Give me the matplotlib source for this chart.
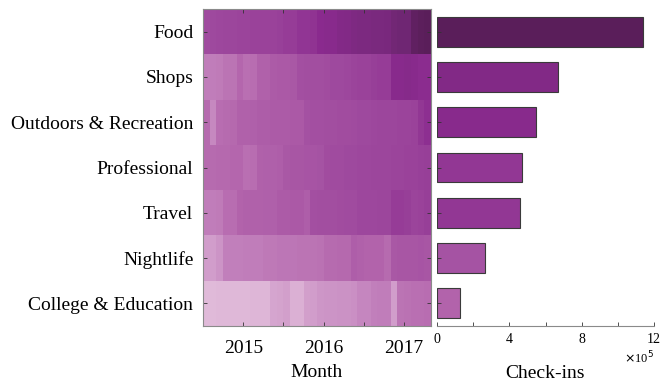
import numpy as np
import matplotlib
matplotlib.use("Agg")
import matplotlib.pyplot as plt
from matplotlib.colors import LinearSegmentedColormap

plt.rcParams['font.family'] = ['Liberation Serif', 'DejaVu Serif']

categories = ["Food", "Shops", "Outdoors & Recreation", "Professional",
              "Travel", "Nightlife", "College & Education"]

# monthly activity intensity per category (Jul 2014 - Apr 2017)
start_year, start_month, n_months = 2014, 7, 34

food = [0.57, 0.58, 0.59, 0.60, 0.60, 0.61, 0.61, 0.62, 0.62, 0.62, 0.62, 0.63,
        0.65, 0.65, 0.69, 0.69, 0.70, 0.75, 0.76, 0.76, 0.79, 0.80, 0.82, 0.83,
        0.83, 0.84, 0.84, 0.85, 0.89, 0.90, 0.90, 0.97, 0.99, 1.00]
shops = [0.30, 0.30, 0.31, 0.34, 0.34, 0.40, 0.36, 0.37, 0.43, 0.43, 0.47, 0.48,
         0.48, 0.49, 0.54, 0.55, 0.55, 0.55, 0.56, 0.58, 0.58, 0.59, 0.61, 0.62,
         0.62, 0.64, 0.65, 0.65, 0.76, 0.76, 0.77, 0.76, 0.74, 0.74]
outdoors = [0.38, 0.25, 0.37, 0.38, 0.39, 0.43, 0.43, 0.44, 0.46, 0.46, 0.47, 0.47,
            0.47, 0.48, 0.48, 0.53, 0.54, 0.54, 0.55, 0.55, 0.56, 0.56, 0.57, 0.58,
            0.58, 0.59, 0.60, 0.60, 0.60, 0.61, 0.61, 0.62, 0.68, 0.72]
professional = [0.38, 0.38, 0.39, 0.39, 0.40, 0.40, 0.36, 0.37, 0.43, 0.44, 0.44, 0.45,
                0.49, 0.50, 0.50, 0.51, 0.51, 0.52, 0.56, 0.57, 0.57, 0.58, 0.58, 0.59,
                0.59, 0.60, 0.60, 0.60, 0.61, 0.61, 0.62, 0.62, 0.63, 0.64]
travel = [0.30, 0.30, 0.31, 0.37, 0.37, 0.42, 0.43, 0.43, 0.43, 0.44, 0.44, 0.47,
          0.47, 0.48, 0.48, 0.45, 0.54, 0.55, 0.55, 0.55, 0.56, 0.57, 0.57, 0.59,
          0.59, 0.59, 0.60, 0.60, 0.65, 0.65, 0.64, 0.61, 0.62, 0.64]
nightlife = [0.16, 0.16, 0.20, 0.29, 0.29, 0.29, 0.30, 0.30, 0.30, 0.32, 0.32, 0.33,
             0.33, 0.33, 0.34, 0.34, 0.34, 0.35, 0.38, 0.38, 0.39, 0.39, 0.45, 0.43,
             0.42, 0.42, 0.42, 0.38, 0.49, 0.50, 0.50, 0.50, 0.51, 0.50]
college = [0.02, 0.02, 0.03, 0.03, 0.03, 0.03, 0.03, 0.04, 0.04, 0.04, 0.12, 0.13,
           0.15, 0.07, 0.07, 0.15, 0.16, 0.19, 0.20, 0.20, 0.21, 0.21, 0.22, 0.26,
           0.26, 0.29, 0.30, 0.30, 0.16, 0.34, 0.35, 0.36, 0.36, 0.37]

# total check-ins per category, in units of 1e5
checkins = [11.4, 6.7, 5.45, 4.7, 4.6, 2.65, 1.27]
bar_levels = [1.0, 0.80, 0.76, 0.68, 0.68, 0.52, 0.42]

year_ticks = [2015, 2016, 2017]
count_ticks = ["0", "2", "4", "6", "8", "10", "12"]

cmap = LinearSegmentedColormap.from_list(
    "orchid",
    [(0.0, "#e2bedb"), (0.2, "#cc94c6"), (0.4, "#b466ad"), (0.6, "#9c469c"),
     (0.75, "#8a2a8e"), (0.88, "#742878"), (1.0, "#5a1e5a")])

W, H = 668, 384
fig = plt.figure(figsize=(W / 100, H / 100), dpi=100)

hm_left, hm_right, top, bottom = 203, 431, 9, 326
bar_left, bar_right = 437, 654
ax = fig.add_axes([hm_left / W, 1 - bottom / H, (hm_right - hm_left) / W, (bottom - top) / H])
axb = fig.add_axes([bar_left / W, 1 - bottom / H, (bar_right - bar_left) / W, (bottom - top) / H])

matrix = np.array([food, shops, outdoors, professional, travel, nightlife, college])
month_index = np.arange(n_months + 1) + (start_month - 1)
x_edges = start_year + month_index / 12.0
y_edges = np.arange(len(categories) + 1) - 0.5
ax.pcolormesh(x_edges, y_edges, matrix, cmap=cmap, vmin=0, vmax=1, shading="flat")
ax.set_xlim(x_edges[0], x_edges[-1])
ax.set_ylim(len(categories) - 0.5, -0.5)

ax.set_xticks(year_ticks)
ax.set_xticklabels([str(y) for y in year_ticks], fontsize=14)
ax.set_xticks([y + 0.5 for y in [2014] + year_ticks[:-1]], minor=True)
ax.set_yticks(range(len(categories)))
ax.set_yticklabels(categories, fontsize=14)
ax.tick_params(axis="both", which="both", direction="in", length=3, width=0.6,
               color="#333333", top=True, right=True)
ax.tick_params(axis="x", pad=10)
ax.tick_params(axis="y", pad=7)
for s in ax.spines.values():
    s.set_color("#8a8a8a")
    s.set_linewidth(0.8)
ax.set_xlabel("Month", fontsize=14, labelpad=5)

ypos = np.arange(len(categories))
axb.barh(ypos, checkins, height=0.66, color=[cmap(v) for v in bar_levels],
         edgecolor="#3a3a3a", linewidth=0.8)
axb.set_xlim(0, 12)
axb.set_ylim(len(categories) - 0.5, -0.5)
axb.set_xticks([float(t) for t in count_ticks])
axb.set_xticklabels([lbl if i % 2 == 0 else "" for i, lbl in enumerate(count_ticks)],
                    fontsize=10)
axb.set_yticks(ypos)
axb.set_yticklabels([])
axb.tick_params(axis="both", direction="in", length=3, width=0.6, color="#333333")
axb.tick_params(axis="x", pad=5)
for side in ["top", "right", "left"]:
    axb.spines[side].set_visible(False)
axb.spines["bottom"].set_color("#8a8a8a")
axb.spines["bottom"].set_linewidth(0.8)
axb.set_xlabel("Check-ins", fontsize=14, labelpad=14)
axb.text(1.0, -0.075, r"$\times$10$^5$", transform=axb.transAxes, ha="right",
         va="top", fontsize=9)

fig.savefig("out.png", dpi=100)
